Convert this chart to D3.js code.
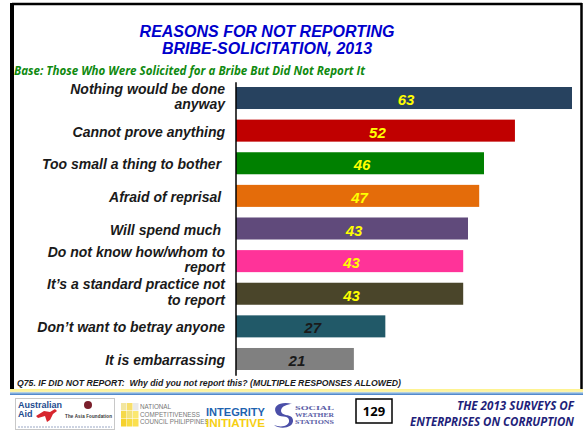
<!DOCTYPE html>
<html>
<head>
<meta charset="utf-8">
<script src="https://cdn.jsdelivr.net/npm/d3@7"></script>
<style>
  body { margin: 0; background: #fff; }
  svg { display: block; font-family: "Liberation Sans", Arial, sans-serif; }
</style>
</head>
<body>
<svg id="chart" width="583" height="430"></svg>
<script>
// reasons, top to bottom ("\n" marks where the label wraps)
const categories = [
    "Nothing would be done\nanyway",
    "Cannot prove anything",
    "Too small a thing to bother ",
    "Afraid of reprisal ",
    "Will spend much ",
    "Do not know how/whom to\nreport",
    "It\u2019s a standard practice not\nto report",
    "Don\u2019t want to betray anyone",
    "It is embarrassing"
];
// bar lengths as drawn, and the numbers printed on them
const values = [63, 52.3, 46.5, 45.6, 43.5, 42.6, 42.6, 28, 22.1];
const valueLabels = ["63", "52", "46", "47", "43", "43", "43", "27", "21"];
const barColors = ["#27425f", "#c00000", "#008000", "#e46c0a", "#604a7b", "#ff3399", "#4a452a", "#215968", "#808080"];
const labelColors = ["#ffff00", "#ffff00", "#ffff00", "#ffff00", "#ffff00", "#ffff00", "#ffff00", "#1a1a1a", "#1a1a1a"];

const titleLines = ["REASONS FOR NOT REPORTING", "BRIBE-SOLICITATION, 2013"];
const subtitle = "Base: Those Who Were Solicited for a Bribe But Did Not Report It";
const question = "Q75. IF DID NOT REPORT:  Why did you not report this? (MULTIPLE RESPONSES ALLOWED)";
const pageNumber = "129";
const footerLines = ["THE 2013 SURVEYS OF", "ENTERPRISES ON CORRUPTION"];

const svg = d3.select("#chart");

// frame
svg.append("line").attr("x1", 12).attr("x2", 582).attr("y1", 4).attr("y2", 4)
    .attr("stroke", "#000").attr("stroke-width", 2.5);
svg.append("line").attr("x1", 12).attr("x2", 12).attr("y1", 3).attr("y2", 390)
    .attr("stroke", "#000").attr("stroke-width", 4);
svg.append("line").attr("x1", 581.5).attr("x2", 581.5).attr("y1", 3).attr("y2", 390)
    .attr("stroke", "#000").attr("stroke-width", 2.5);

// yellow/blue rule above the footer
const grad = svg.append("defs").append("linearGradient")
    .attr("id", "rule").attr("x1", 0).attr("x2", 0).attr("y1", 0).attr("y2", 1);
grad.append("stop").attr("offset", "0%").attr("stop-color", "#fff38a");
grad.append("stop").attr("offset", "45%").attr("stop-color", "#fbf3b0");
grad.append("stop").attr("offset", "60%").attr("stop-color", "#a9cbe8");
grad.append("stop").attr("offset", "100%").attr("stop-color", "#3d78c4");
svg.append("rect").attr("x", 10).attr("y", 389).attr("width", 573).attr("height", 6)
    .attr("fill", "url(#rule)");

// titles
svg.selectAll(".title").data(titleLines).join("text")
    .attr("class", "title")
    .attr("x", 267).attr("y", (d, i) => 37 + i * 17)
    .attr("text-anchor", "middle")
    .attr("font-size", 16).attr("font-weight", "bold").attr("font-style", "italic")
    .attr("fill", "#0000cc")
    .text(d => d);

svg.append("text")
    .attr("x", 14).attr("y", 74.5)
    .attr("font-family", "'Open Sans', sans-serif")
    .attr("font-size", 11.5).attr("font-weight", "bold").attr("font-style", "italic")
    .attr("fill", "#108a10")
    .attr("textLength", 351).attr("lengthAdjust", "spacingAndGlyphs")
    .text(subtitle);

// scales
const x = d3.scaleLinear()
    .domain([0, d3.max(values)])
    .range([236, 572]);

const y = d3.scaleBand()
    .domain(categories)
    .range([81.7, 375.3])
    .paddingInner(0.325)
    .paddingOuter(0.1625);

const rows = categories.map((c, i) => ({ cat: c, value: values[i], label: valueLabels[i], color: barColors[i], text: labelColors[i] }));

svg.selectAll(".bar").data(rows).join("rect")
    .attr("class", "bar")
    .attr("x", x(0))
    .attr("y", d => y(d.cat))
    .attr("width", d => x(d.value) - x(0))
    .attr("height", y.bandwidth())
    .attr("fill", d => d.color);

svg.selectAll(".val").data(rows).join("text")
    .attr("class", "val")
    .attr("x", d => (x(0) + x(d.value)) / 2 + 2)
    .attr("y", d => y(d.cat) + y.bandwidth() / 2 + 7)
    .attr("text-anchor", "middle")
    .attr("font-size", 15).attr("font-weight", "bold").attr("font-style", "italic")
    .attr("fill", d => d.text)
    .text(d => d.label);

// axis line only
svg.append("g")
    .attr("transform", "translate(235.5,0)")
    .call(d3.axisLeft(y).tickSize(0).tickSizeOuter(0).tickFormat(""))
    .call(g => g.select(".domain").attr("stroke", "#000").attr("stroke-width", 1.5));

// category labels
const cat = svg.selectAll(".cat").data(rows).join("text")
    .attr("class", "cat")
    .attr("text-anchor", "end")
    .attr("font-size", 14).attr("font-weight", "bold").attr("font-style", "italic")
    .attr("fill", "#1a1a1a")
    .style("white-space", "pre");
cat.each(function (d) {
    const lines = d.cat.split("\n");
    const mid = y(d.cat) + y.bandwidth() / 2;
    const first = lines.length > 1 ? mid - 4.5 : mid + 6;
    d3.select(this).selectAll("tspan").data(lines).join("tspan")
        .attr("x", 225)
        .attr("y", (l, i) => first + i * 15.5)
        .text(l => l);
});

// question note
svg.append("text")
    .attr("x", 17).attr("y", 386)
    .attr("font-size", 8.5).attr("font-weight", "bold").attr("font-style", "italic")
    .attr("fill", "#1a1a1a")
    .attr("textLength", 384).attr("lengthAdjust", "spacingAndGlyphs")
    .style("white-space", "pre")
    .text(question);

// footer logos (simplified)
const foot = svg.append("g");
foot.append("rect").attr("x", 15.5).attr("y", 398.5).attr("width", 99).attr("height", 31)
    .attr("fill", "#fff").attr("stroke", "#c8c8c8");
foot.append("text").attr("x", 18).attr("y", 408).attr("font-size", 9).attr("font-weight", "bold")
    .attr("fill", "#1d4b8f").text("Australian");
foot.append("text").attr("x", 18).attr("y", 417).attr("font-size", 9).attr("font-weight", "bold")
    .attr("fill", "#1d4b8f").text("Aid");
foot.append("path").attr("d", "M36,416 L44,411 L50,412 L55,409 L57,411 L53,414 L50,420 L47,422 L45,416 L38,418 Z")
    .attr("fill", "#d7262e");
foot.append("circle").attr("cx", 88).attr("cy", 405).attr("r", 4).attr("fill", "#7a1f2b");
foot.append("text").attr("x", 65).attr("y", 418).attr("font-size", 4.5).attr("font-weight", "bold")
    .attr("fill", "#333").attr("textLength", 47).text("The Asia Foundation");
foot.append("line").attr("x1", 18).attr("x2", 112).attr("y1", 427).attr("y2", 427)
    .attr("stroke", "#9aa7c4").attr("stroke-width", 1).attr("stroke-dasharray", "2,1");

const squares = [0, 1, 2, 3, 4, 5, 6, 7, 8];
foot.selectAll(".sq").data(squares).join("rect")
    .attr("x", d => 121 + (d % 3) * 6).attr("y", d => 403 + Math.floor(d / 3) * 8)
    .attr("width", 5.5).attr("height", 7.5)
    .attr("fill", d => ["#f2e6a0", "#f7df6c", "#e9e9e9", "#f5d94a", "#f3e27a", "#fbe870", "#f6d12c", "#f8dc40", "#fbe04f"][d]);
["NATIONAL", "COMPETITIVENESS", "COUNCIL PHILIPPINES"].forEach((t, i) => {
    foot.append("text").attr("x", 140).attr("y", 409 + i * 7.5).attr("font-size", 6.3)
        .attr("font-family", "'Liberation Sans Narrow', 'Liberation Sans', sans-serif")
        .attr("fill", "#777").text(t);
});

foot.append("text").attr("x", 206).attr("y", 416).attr("font-size", 11).attr("font-weight", "bold")
    .attr("fill", "#1f63b0").attr("textLength", 59).attr("lengthAdjust", "spacingAndGlyphs").text("INTEGRITY");
foot.append("text").attr("x", 206).attr("y", 426.5).attr("font-size", 11).attr("font-weight", "bold")
    .attr("fill", "#f6cf14").attr("textLength", 59).attr("lengthAdjust", "spacingAndGlyphs").text("INITIATIVE");

foot.append("path")
    .attr("d", "M292,404 C282,401 272,405 276,413 C279,419 288,414 289,420 C290,426 281,428 274,425 C280,430 294,428 293,420 C292,413 282,417 281,411 C281,406 288,404 292,404 Z")
    .attr("fill", "#4b4fa8");
["SOCIAL", "WEATHER", "STATIONS"].forEach((t, i) => {
    foot.append("text").attr("x", 295).attr("y", 409.5 + i * 7.3).attr("font-size", 6.3).attr("font-weight", "bold")
        .attr("font-family", "'Liberation Serif', serif")
        .attr("fill", "#5b5ea6").attr("textLength", 39).attr("lengthAdjust", "spacingAndGlyphs").text(t);
});

foot.append("rect").attr("x", 356).attr("y", 399).attr("width", 36).attr("height", 24)
    .attr("fill", "#fff").attr("stroke", "#000").attr("stroke-width", 1.5);
foot.append("text").attr("x", 374).attr("y", 416).attr("text-anchor", "middle")
    .attr("font-family", "'Open Sans', sans-serif")
    .attr("font-size", 13).attr("font-weight", "bold").attr("fill", "#000").text(pageNumber);

foot.selectAll(".ftxt").data(footerLines).join("text")
    .attr("class", "ftxt")
    .attr("x", 574).attr("y", (d, i) => 410 + i * 15.5)
    .attr("text-anchor", "end")
    .attr("font-family", "'Open Sans', sans-serif")
    .attr("font-size", 11.5).attr("font-weight", "bold").attr("font-style", "italic")
    .attr("fill", "#1f1f7a")
    .attr("textLength", (d, i) => [117, 164][i]).attr("lengthAdjust", "spacingAndGlyphs")
    .text(d => d);
</script>
</body>
</html>
